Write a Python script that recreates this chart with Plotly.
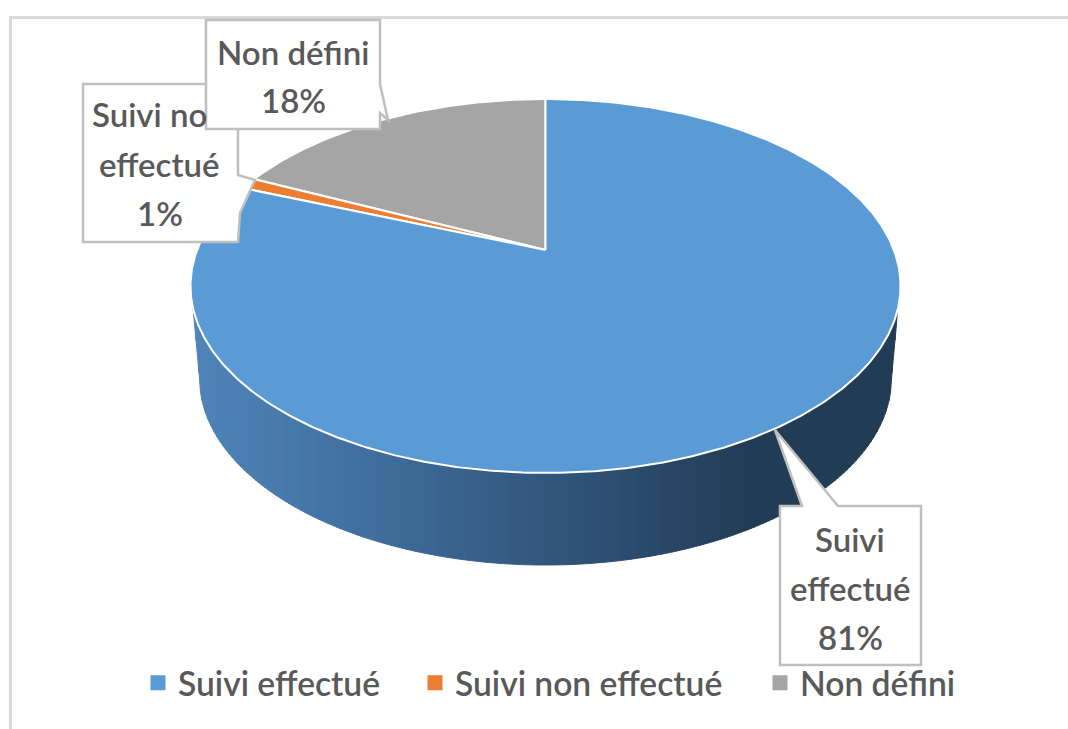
import numpy as np
import plotly.graph_objects as go

# Data (counter-clockwise from 12 o'clock)
categories = ["Non défini", "Suivi non effectué", "Suivi effectué"]
values = [18, 1, 81]
legend_order = ["Suivi effectué", "Suivi non effectué", "Non défini"]
legend_x_px = [138, 415, 760]
colors = {"Suivi effectué": "#5B9BD5", "Suivi non effectué": "#ED7D31", "Non défini": "#A5A5A5"}

# Projection of the tilted pie (image pixels)
CX, APEX_Y, A_K, B = 545.5, 250.0, 0.1925, -131.9
C = 348.4
EL_RY = 187.0
LOW_CY, LOW_R = 378.0, 346.0
W, H = 1068, 729
TEXT = "#595959"
FONT = "Lato"


def project(theta):
    u, v = -np.sin(theta), np.cos(theta)
    w = 1 + A_K * v
    return CX + C * u / w, (APEX_Y + B * v) / w


fig = go.Figure()

# Side wall: narrow vertical strips giving the horizontal gradient
stops_x = [192, 300, 400, 545, 650, 750, 900]
stops_r = [0x50, 0x47, 0x3E, 0x33, 0x2B, 0x22, 0x22]
stops_g = [0x85, 0x78, 0x6B, 0x57, 0x4A, 0x3D, 0x3D]
stops_b = [0xBA, 0xAA, 0x98, 0x7E, 0x6B, 0x56, 0x56]


def lower(x):
    d = abs(x - CX)
    if d <= LOW_R:
        return LOW_CY + EL_RY * np.sqrt(1 - (d / LOW_R) ** 2)
    return LOW_CY - (d - LOW_R) * (LOW_CY - 313) / 6.0


edges = np.arange(193.0, 899.0, 3.0)
for x0, x1 in zip(edges[:-1], edges[1:]):
    mid = (x0 + x1) / 2
    col = "rgb(%d,%d,%d)" % (
        np.interp(mid, stops_x, stops_r),
        np.interp(mid, stops_x, stops_g),
        np.interp(mid, stops_x, stops_b),
    )
    xs = np.linspace(x0, x1, 3)
    ys = [lower(x) for x in xs]
    fig.add_trace(go.Scatter(
        x=[x0, *xs, x1, x0], y=[300, *ys, 300, 300], mode="lines", fill="toself",
        fillcolor=col, line=dict(color=col, width=1), showlegend=False, hoverinfo="skip",
    ))

# Top face: wedges from the values
angle = 0.0
total = sum(values)
for name, val in zip(categories, values):
    sweep = 2 * np.pi * val / total
    th = np.linspace(angle, angle + sweep, max(int(val * 8), 8))
    px, py = project(th)
    fig.add_trace(go.Scatter(
        x=[CX, *px, CX], y=[APEX_Y, *py, APEX_Y], mode="lines", fill="toself",
        fillcolor=colors[name], line=dict(color="white", width=2),
        showlegend=False, hoverinfo="skip",
    ))
    angle += sweep

# Legend entries, one small legend per entry so the spacing can follow the reference
legends = {}
for i, (name, lx) in enumerate(zip(legend_order, legend_x_px)):
    key = "legend" if i == 0 else f"legend{i + 1}"
    fig.add_trace(go.Scatter(
        x=[None], y=[None], mode="markers", name=name, legend=key,
        marker=dict(symbol="square", size=15, color=colors[name]),
    ))
    legends[key] = dict(x=lx / W, y=1 - 683 / H, xanchor="left", yanchor="middle", itemsizing="trace",
                        bgcolor="rgba(0,0,0,0)",
                        font=dict(family=FONT, size=33.6, color=TEXT, weight=600))

BOX = "#BFBFBF"
shapes = [
    dict(type="path", path="M 10.5 729 L 10.5 17.5 L 1068 17.5", line=dict(color="#D9D9D9", width=3)),
    dict(type="path", path="M 83 84 L 238 84 L 238 175 L 255 180 L 240 213 L 238 242 L 83 242 Z",
         fillcolor="white", line=dict(color=BOX, width=2.5)),
    dict(type="path", path="M 206 20 L 380 20 L 380 84 L 388 120 L 380 113 L 380 129 L 206 129 Z",
         fillcolor="white", line=dict(color=BOX, width=2.5)),
    dict(type="path", path="M 780 506 L 802 506 L 775 430 L 838 506 L 921 506 L 921 665 L 780 665 Z",
         fillcolor="white", line=dict(color=BOX, width=2.5)),
]

labels = [
    (149, 114, "Suivi no"), (159, 164, "effectué"), (160, 213, "1%"),
    (293, 52, "Non défini"), (293, 100, "18%"),
    (850, 539, "Suivi"), (850, 588, "effectué"), (850, 637, "81%"),
]
annotations = [
    dict(x=x, y=y, text=t, showarrow=False, xref="x", yref="y", xanchor="center", yanchor="middle",
         font=dict(family=FONT, size=33, color=TEXT, weight=600))
    for x, y, t in labels
]
fig.update_layout(
    width=W, height=H, margin=dict(l=0, r=0, t=0, b=0, autoexpand=False),
    paper_bgcolor="white", plot_bgcolor="white",
    xaxis=dict(range=[0, W], visible=False, fixedrange=True),
    yaxis=dict(range=[H, 0], visible=False, fixedrange=True),
    shapes=shapes, annotations=annotations,
    font=dict(family=FONT),
    **legends,
)

fig.write_html("out.html", config={"displayModeBar": False},
               post_script="document.body.style.margin='0';document.body.style.overflow='hidden';")
